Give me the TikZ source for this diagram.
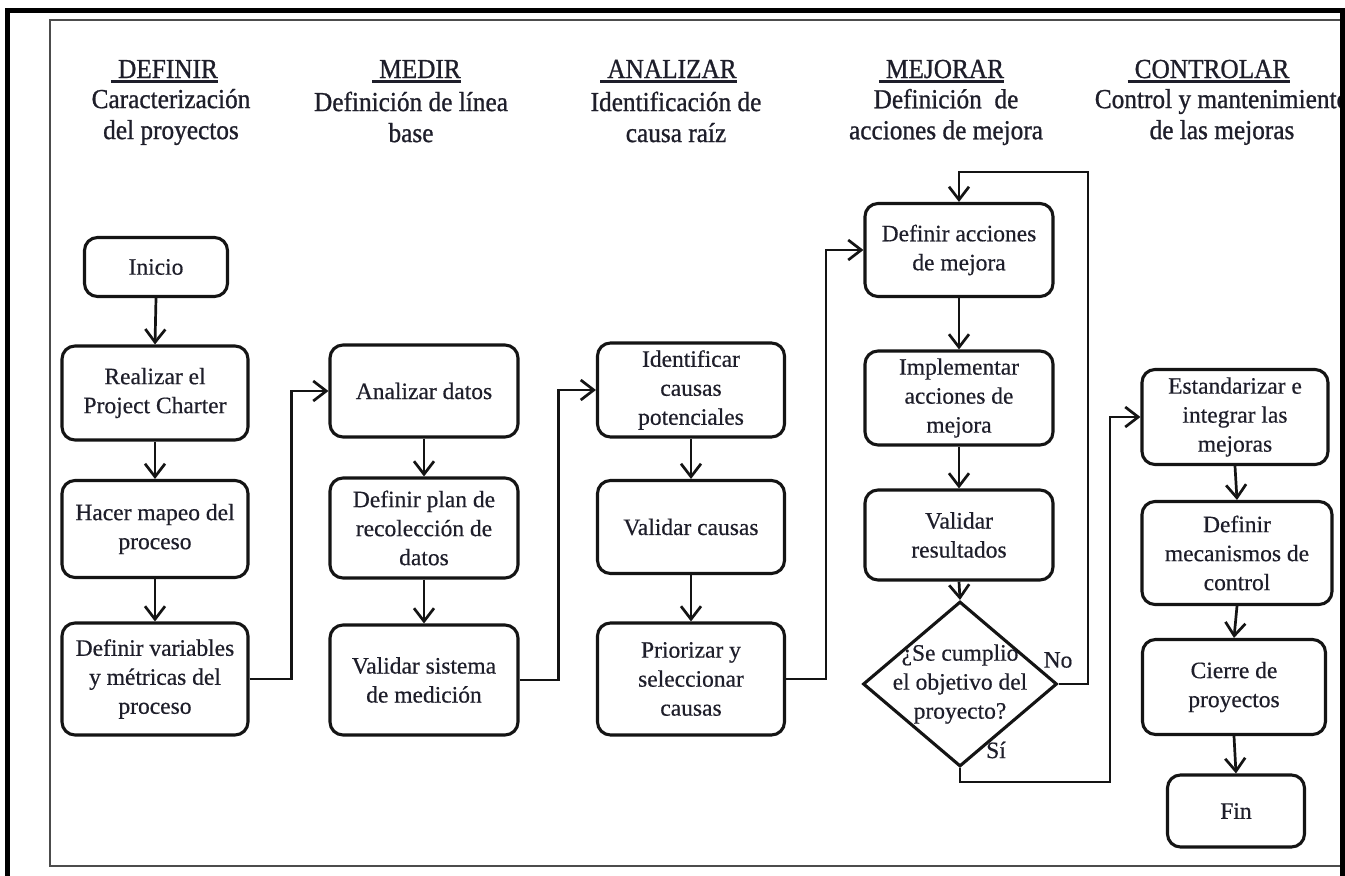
\documentclass[tikz,border=0pt]{standalone}
\usepackage{fontspec}
\setmainfont{Liberation Serif}
\newfontfamily\boxfont{Liberation Serif}[FakeBold=0.5]
\newfontfamily\headfont{Liberation Serif}[FakeStretch=0.92,FakeBold=0.9]
\usetikzlibrary{arrows.meta,shapes.geometric}
\definecolor{ink}{HTML}{1E1E2A}
\definecolor{linecol}{HTML}{141414}
\begin{document}
\begin{tikzpicture}[x=1pt,y=-1pt,
  box/.style={draw=linecol, line width=3.1pt, rounded corners=13pt,
    align=center, inner sep=2pt, text=ink,
    font=\boxfont\fontsize{23.5}{29}\selectfont},
  conn/.style={draw=linecol, line width=2.7pt,
    -{Straight Barb[length=13pt,width=20pt]}},
  phase/.style={text=ink, anchor=base, inner sep=0pt,
    font=\headfont\fontsize{27.5}{31}\selectfont},
  subphase/.style={text=ink, align=center, inner sep=0pt,
    font=\headfont\fontsize{27.5}{31}\selectfont},
  lbl/.style={text=ink, inner sep=0pt, font=\boxfont\fontsize{23.5}{29}\selectfont}]

\useasboundingbox (0,0) rectangle (1345,876);
\fill[white] (0,0) rectangle (1345,876);

% phase headings
\node[phase] (t1) at (168,78) {DEFINIR};
\node[phase] (t2) at (420,78) {MEDIR};
\node[phase] (t3) at (672,78) {ANALIZAR};
\node[phase] (t4) at (945,78) {MEJORAR};
\node[phase] (t5) at (1212,78) {CONTROLAR};
\foreach \t in {t1,t2,t3,t4,t5}
  \draw[ink, line width=2.4pt] ([xshift=-7pt,yshift=-3.5pt]\t.base west) -- ([yshift=-3.5pt]\t.base east);

% the last subtitle runs under the right border
\begin{scope}
  \clip (0,0) rectangle (1340,876);
  \node[subphase] (s1) at (171,117) {Caracterización\\del proyectos};
  \node[subphase] (s2) at (411,117) {Definición de línea\\base};
  \node[subphase] (s3) at (676,117) {Identificación de\\causa raíz};
  \node[subphase] (s4) at (946,117) {Definición\ \ de\\acciones de mejora};
  \node[subphase] (s5) at (1222,117) {Control y mantenimiento\\de las mejoras};
\end{scope}

% DEFINIR
\node[box, minimum width=143pt, minimum height=59pt] (ini) at (156,267) {Inicio};
\node[box, minimum width=186pt, minimum height=94pt] (pc) at (155,393) {Realizar el\\Project Charter};
\node[box, minimum width=186pt, minimum height=97pt] (mp) at (155,529) {Hacer mapeo del\\proceso};
\node[box, minimum width=186pt, minimum height=112pt] (dv) at (155,679) {Definir variables\\y métricas del\\proceso};

% MEDIR
\node[box, minimum width=188pt, minimum height=92pt] (ad) at (424,391) {Analizar datos};
\node[box, minimum width=188pt, minimum height=100pt] (dp) at (424,528) {Definir plan de\\recolección de\\datos};
\node[box, minimum width=188pt, minimum height=110pt] (vs) at (424,680) {Validar sistema\\de medición};

% ANALIZAR
\node[box, minimum width=187pt, minimum height=94pt] (ic) at (691,390) {Identificar\\causas\\potenciales};
\node[box, minimum width=187pt, minimum height=93pt] (vc) at (691,527) {Validar causas};
\node[box, minimum width=187pt, minimum height=112pt] (pz) at (691,679) {Priorizar y\\seleccionar\\causas};

% MEJORAR
\node[box, minimum width=188pt, minimum height=93pt] (da) at (959,250) {Definir acciones\\de mejora};
\node[box, minimum width=188pt, minimum height=94pt] (im) at (959,398) {Implementar\\acciones de\\mejora};
\node[box, minimum width=188pt, minimum height=90pt] (vr) at (959,535) {Validar\\resultados};
\node[diamond, draw=linecol, line width=3.1pt, minimum width=194pt, minimum height=165pt, inner sep=0pt] (dec) at (960,684) {};
\node[lbl, align=center] (dect) at (dec.center) {¿Se cumplio\\el objetivo del\\proyecto?};

% CONTROLAR
\node[box, minimum width=186pt, minimum height=95pt] (es) at (1235,417) {Estandarizar e\\integrar las\\mejoras};
\node[box, minimum width=190pt, minimum height=103pt] (dm) at (1237,553) {Definir\\mecanismos de\\control};
\node[box, minimum width=183pt, minimum height=95pt] (cp) at (1234,687) {Cierre de\\proyectos};
\node[box, minimum width=137pt, minimum height=72pt] (fin) at (1236,811) {Fin};

% flow
\draw[conn] (ini.south) -- (pc.north);
\draw[conn] (pc.south) -- (mp.north);
\draw[conn] (mp.south) -- (dv.north);
\draw[conn] (dv.east) -- ++(42,0) |- (ad.west);
\draw[conn] (ad.south) -- (dp.north);
\draw[conn] (dp.south) -- (vs.north);
\draw[conn] (vs.east) -- ++(39,0) |- (ic.west);
\draw[conn] (ic.south) -- (vc.north);
\draw[conn] (vc.south) -- (pz.north);
\draw[conn] (pz.east) -- ++(40,0) |- (da.west);
\draw[conn] (da.south) -- (im.north);
\draw[conn] (im.south) -- (vr.north);
\draw[conn] (vr.south) -- (dec.north);
\coordinate (nocorner) at (1088,172);
\draw[conn] (dec.east) -| (nocorner) -| (da.north);
\coordinate (sicorner) at (1110,782);
\draw[conn] (dec.south) |- (sicorner) |- (es.west);
\draw[conn] (es.south) -- (dm.north);
\draw[conn] (dm.south) -- (cp.north);
\draw[conn] (cp.south) -- (fin.north);

\node[lbl] (no) at (1058,660) {No};
\node[lbl] (si) at (996,750) {Sí};

% frames
\draw[gray!60!black, line width=2.2pt] (1342,20) -- (50,20) -- (50,866) -- (1342,866);
\draw[black, line width=5pt] (7,876) -- (7,10.5) -- (1342.5,10.5) -- (1342.5,876);
\end{tikzpicture}
\end{document}
